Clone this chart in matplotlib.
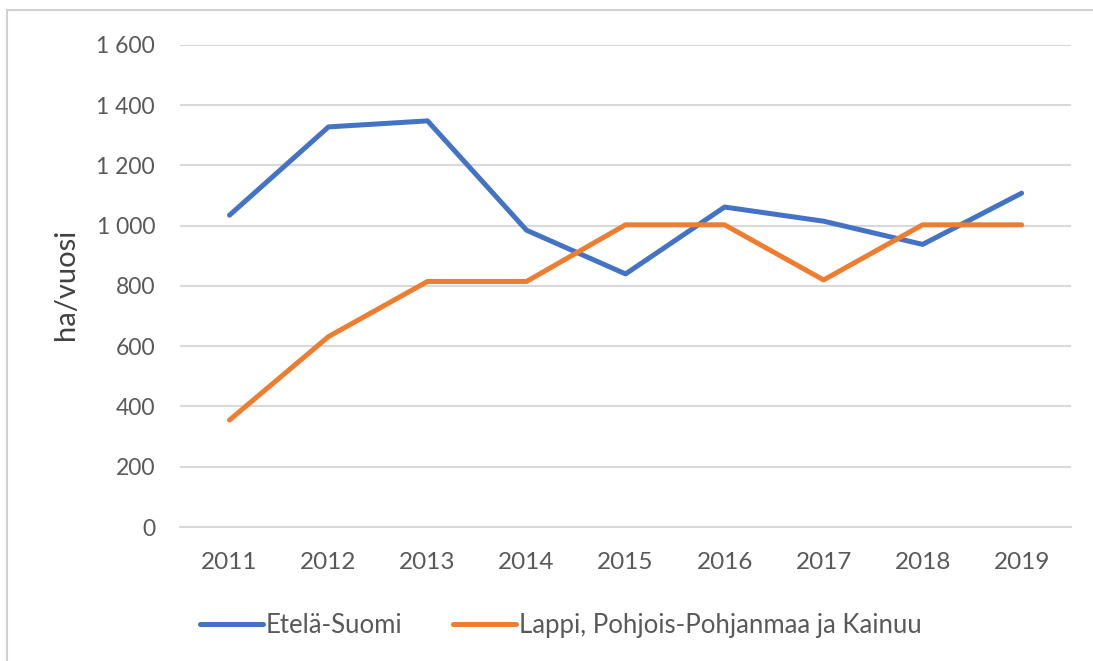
import matplotlib
matplotlib.use("Agg")
import matplotlib.pyplot as plt
from matplotlib.lines import Line2D
from matplotlib.ticker import FuncFormatter

plt.rcParams["font.family"] = ["Lato", "DejaVu Sans"]

# Data
years = ["2011", "2012", "2013", "2014", "2015", "2016", "2017", "2018", "2019"]
etela_suomi = [1035, 1328, 1348, 985, 840, 1062, 1015, 938, 1108]
lappi_pp_kainuu = [355, 632, 815, 815, 1003, 1003, 820, 1003, 1003]

blue = "#4472C4"
orange = "#ED7D31"
text_col = "#595959"
grid_col = "#D9D9D9"

fig = plt.figure(figsize=(10.93, 6.61), dpi=100)
ax = fig.add_axes([0.1647, 0.2027, 0.8153, 0.7293])

x = range(len(years))
ax.plot(x, etela_suomi, color=blue, lw=3.6, solid_capstyle="round", solid_joinstyle="round")
ax.plot(x, lappi_pp_kainuu, color=orange, lw=3.6, solid_capstyle="round", solid_joinstyle="round")

ax.set_xlim(-0.5, len(years) - 0.5)
ax.set_ylim(0, 1600)
ax.set_yticks(range(0, 1601, 200))
ax.yaxis.set_major_formatter(FuncFormatter(lambda v, p: f"{int(v):,}".replace(",", " ")))
ax.set_xticks(list(x))
ax.set_xticklabels(years)

ax.grid(axis="y", color=grid_col, lw=1.5)
ax.set_axisbelow(True)
for s in ["top", "right", "left"]:
    ax.spines[s].set_visible(False)
ax.spines["bottom"].set_color(grid_col)
ax.spines["bottom"].set_linewidth(1.5)
ax.tick_params(axis="x", length=0, labelsize=17.5, colors=text_col, pad=18)
ax.tick_params(axis="y", length=0, labelsize=16.5, colors=text_col, pad=18)

fig.text(0.0604, 0.570, "ha/vuosi", rotation=90, ha="center", va="center",
         fontsize=21, color="#404040")

handles = [Line2D([0], [0], color=blue, lw=3.6, solid_capstyle="round"),
           Line2D([0], [0], color=orange, lw=3.6, solid_capstyle="round")]
fig.legend(handles, ["Etelä-Suomi", "Lappi, Pohjois-Pohjanmaa ja Kainuu"],
           loc="center", bbox_to_anchor=(0.513, 0.054), ncol=2, frameon=False,
           fontsize=18.5, labelcolor=text_col, handlelength=2.45, handletextpad=0.1,
           columnspacing=2.0)

# outer chart border (top and left visible)
fig.add_artist(plt.Rectangle((0.0066, -0.05), 1.1, 1.035, transform=fig.transFigure,
                             fill=False, edgecolor="#D0D0D0", lw=1.5))

fig.savefig("out.png", dpi=100)
